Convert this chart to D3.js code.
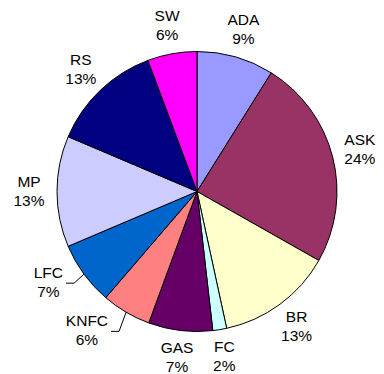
<!DOCTYPE html>
<html>
<head>
<meta charset="UTF-8">
<style>
  body { margin: 0; background: #fff; }
  svg { display: block; }
  text { font-family: "Liberation Sans", Arial, sans-serif; font-size: 15.5px; fill: #000; }
</style>
<script src="https://d3js.org/d3.v7.min.js"></script>
</head>
<body>
<div id="chart"></div>
<script>
// slices, clockwise from 12 o'clock
var names  = ["ADA", "ASK", "BR", "FC", "GAS", "KNFC", "LFC", "MP", "RS", "SW"];
var shares = [8.9, 24.3, 13.4, 1.6, 7.4, 5.7, 7.3, 12.8, 12.9, 5.7];
var colors = ["#9999FF", "#993366", "#FFFFCC", "#CCFFFF", "#660066",
              "#FF8080", "#0066CC", "#CCCCFF", "#000080", "#FF00FF"];

var width = 384, height = 374;
var cx = 197, cy = 191.5, r = 140;
var labelR = 168;
// labels pushed aside by Excel get a leader line
var moved = { "KNFC": [-25, -5], "LFC": [-13, -7.5] };

var svg = d3.select("#chart").append("svg")
  .attr("width", width).attr("height", height);

var g = svg.append("g").attr("transform", "translate(" + cx + "," + cy + ")");

var data = names.map(function (n, i) { return { name: n, value: shares[i], color: colors[i] }; });

var pie = d3.pie().sort(null).value(function (d) { return d.value; });
var arc = d3.arc().innerRadius(0).outerRadius(r);
var arcs = pie(data);

g.selectAll("path.slice").data(arcs).enter().append("path")
  .attr("class", "slice")
  .attr("d", arc)
  .attr("fill", function (d) { return d.data.color; })
  .attr("stroke", "#000")
  .attr("stroke-width", 1);

var total = d3.sum(shares);

arcs.forEach(function (d) {
  var a = (d.startAngle + d.endAngle) / 2;
  var x = labelR * Math.sin(a), y = -labelR * Math.cos(a);
  var nudge = moved[d.data.name];
  if (nudge) { x += nudge[0]; y += nudge[1]; }
  var t = g.append("text").attr("text-anchor", "middle");
  var nm = t.append("tspan").attr("x", x).attr("y", y - 5).text(d.data.name);
  t.append("tspan").attr("x", x).attr("y", y + 14)
    .text(Math.round(d.data.value / total * 100) + "%");
  if (nudge) {
    var w = nm.node().getComputedTextLength();
    var lx = x + w / 2 + 3;
    var ex = r * Math.sin(a), ey = -r * Math.cos(a);
    g.append("path")
      .attr("d", "M" + lx + "," + y + "H" + (lx + 8) + "L" + ex + "," + ey)
      .attr("fill", "none").attr("stroke", "#000").attr("stroke-width", 1);
  }
});
</script>
</body>
</html>
